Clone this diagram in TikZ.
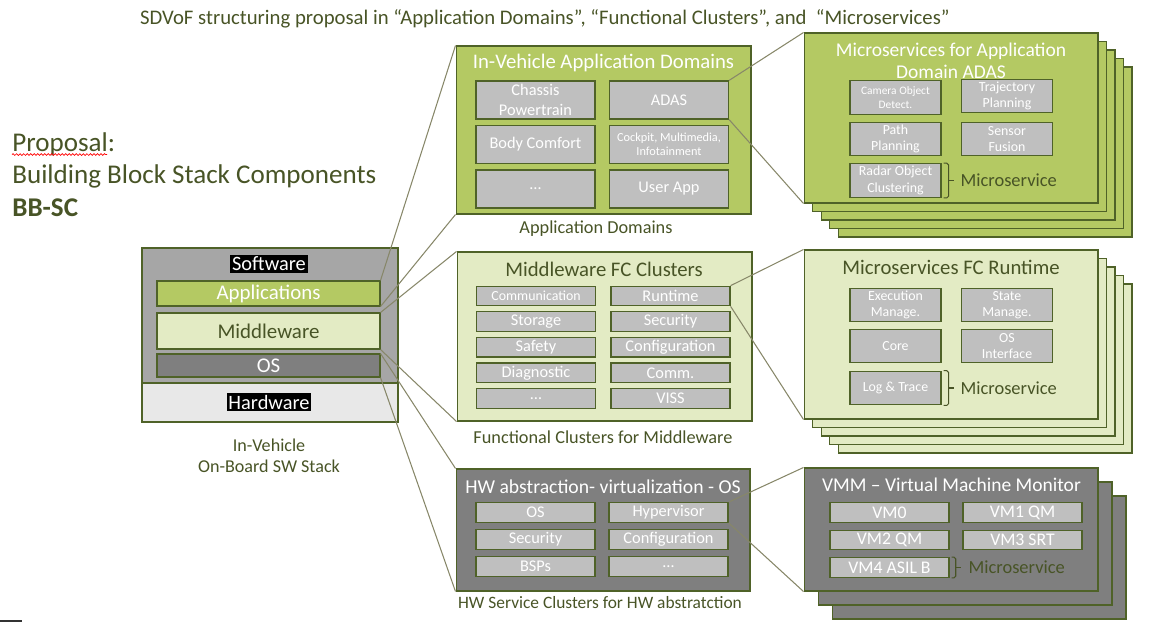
\documentclass[tikz,border=0pt]{standalone}
\usepackage{fontspec}
\setmainfont{Carlito}
\usetikzlibrary{decorations.pathmorphing}

\definecolor{grn}{RGB}{180,201,99}
\definecolor{pale}{RGB}{227,235,196}
\definecolor{dgray}{RGB}{127,127,127}
\definecolor{sgray}{RGB}{166,166,166}
\definecolor{cgray}{RGB}{191,191,191}
\definecolor{hwgray}{RGB}{232,232,232}
\definecolor{olv}{RGB}{79,98,40}
\definecolor{txt}{RGB}{72,84,38}
\definecolor{lnk}{RGB}{135,135,105}

\tikzset{
  box/.style={draw=olv, line width=0.6pt, inner sep=0pt},
  grnbox/.style={box, fill=grn},
  palebox/.style={box, fill=pale},
  darkbox/.style={box, fill=dgray},
  cell/.style={draw=olv, line width=0.7pt, fill=cgray, text=white, inner sep=0pt,
    align=center, font=\fontsize{9.3}{11.2}\selectfont},
  appcell/.style={cell, minimum width=2.38cm, minimum height=0.76cm},
  rowcell/.style={cell, minimum width=2.38cm, minimum height=0.39cm},
  mscell/.style={cell, minimum width=1.82cm, minimum height=0.67cm,
    font=\fontsize{7.9}{9.3}\selectfont},
  vmcell/.style={cell, minimum width=2.38cm, minimum height=0.39cm,
    font=\fontsize{10.1}{11.5}\selectfont},
  layer/.style={draw=olv, line width=0.6pt, minimum width=4.46cm, inner sep=0pt,
    font=\fontsize{11.9}{13.5}\selectfont},
  tag/.style={fill=black, text=white, inner sep=1pt, font=\fontsize{11.6}{13}\selectfont},
  caption/.style={text=txt, align=center, font=\fontsize{10.4}{12}\selectfont},
  link/.style={draw=lnk, line width=0.6pt},
  bracket/.style={draw=txt, line width=0.6pt, rounded corners=1pt},
  mslabel/.style={right, xshift=3.5pt, inner sep=0pt, text=txt,
    font=\fontsize{10.5}{12}\selectfont}
}

\begin{document}
\begin{tikzpicture}[x=0.02cm, y=-0.02cm]
\useasboundingbox (0,0) rectangle (1157,626);

\node[text=txt, font=\fontsize{11.8}{13}\selectfont] (ttl) at (545,19)
  {SDVoF structuring proposal in “Application Domains”, “Functional Clusters”, and~ “Microservices”};

\node[anchor=base west, inner sep=0pt, text=txt, font=\fontsize{15.4}{18}\selectfont] (prop) at (12,151) {Proposal:};
\node[anchor=base west, inner sep=0pt, text=txt, font=\fontsize{15.4}{18}\selectfont] (bbsc) at (12,183) {Building Block Stack Components};
\node[anchor=base west, inner sep=0pt, text=txt, font=\fontsize{15.4}{18}\selectfont\bfseries] (bbscs) at (12,216) {BB-SC};
\draw[red, line width=0.4pt, decorate, decoration={snake, amplitude=0.5pt, segment length=2pt}]
  ([yshift=-2pt]prop.base west) -- ++(95,0);
\draw[black!80, line width=0.8pt] (0,621) -- (22,621);

% on-board stack
\node[box, fill=sgray, minimum width=5.12cm, minimum height=2.7cm] (swbox) at (270,315.5) {};
\node[box, fill=hwgray, minimum width=5.12cm, minimum height=0.78cm] (hwpart) at (270,402.5) {};
\node[tag] (swlbl) at (269,264) {Software};
\node[tag] (hwlbl) at (269,402) {Hardware};
\node[layer, fill=grn, text=white, minimum height=0.5cm] (apps) at (268.5,293.5) {Applications};
\node[layer, fill=pale, text=txt, minimum height=0.72cm] (mware) at (268.5,331) {Middleware};
\node[layer, fill=dgray, text=white, minimum height=0.46cm] (os) at (268.5,365.5) {OS};
\node[caption, font=\fontsize{10.3}{12}\selectfont] (stkcap) at (269,456) {In-Vehicle\\On-Board SW Stack};

% application domains
\node[grnbox, minimum width=5.9cm, minimum height=3.36cm] (appdom) at (603.5,130) {};
\node[text=white, font=\fontsize{11.8}{13}\selectfont] (appttl) at (603.5,63) {In-Vehicle Application Domains};
\node[appcell] (chas) at (535.5,100) {Chassis\\Powertrain};
\node[appcell] (adas) at (669,100) {ADAS};
\node[appcell] (body) at (535.5,144.5) {Body Comfort};
\node[appcell, font=\fontsize{7}{8.2}\selectfont] (cock) at (669,144.5) {Cockpit, Multimedia,\\Infotainment};
\node[appcell] (appdot) at (535.5,189) {…};
\node[appcell] (user) at (669,189) {User App};
\node[caption] (appcap) at (596,229) {Application Domains};

% middleware clusters
\node[palebox, minimum width=5.9cm, minimum height=3.38cm] (mwbox) at (604.5,336.5) {};
\node[text=txt, font=\fontsize{11.8}{13}\selectfont] (mwttl) at (604,269) {Middleware FC Clusters};
\foreach \nm/\txt [count=\i from 0] in {mcom/{\fontsize{7.9}{9}\selectfont Communication}, msto/Storage,
    msaf/Safety, mdia/Diagnostic, mdot/…}
  \node[rowcell] (\nm) at (536,296+25.6*\i) {\txt};
\foreach \nm/\txt [count=\i from 0] in {mrun/Runtime, msec/Security, mcfg/Configuration,
    mcmm/Comm., mvis/VISS}
  \node[rowcell] (\nm) at (670.5,296+25.6*\i) {\txt};
\node[caption] (mwcap) at (603,437) {Functional Clusters for Middleware};

% hw abstraction
\node[darkbox, minimum width=5.88cm, minimum height=2.44cm] (hwbox) at (603,530) {};
\node[text=white, font=\fontsize{11.2}{13}\selectfont] (hwttl) at (603,487) {HW abstraction- virtualization - OS};
\foreach \nm/\txt [count=\i from 0] in {hos/OS, hsec/Security, hbsp/BSPs}
  \node[rowcell] (\nm) at (535.5,512.5+27*\i) {\txt};
\foreach \nm/\txt [count=\i from 0] in {hyp/Hypervisor, hcfg/Configuration, hdot/…}
  \node[rowcell] (\nm) at (668.5,512.5+27*\i) {\txt};
\node[caption, font=\fontsize{9.9}{12}\selectfont] (hwcap) at (600,603) {HW Service Clusters for HW abstratction};

% microservices adas
\foreach \d [count=\k] in {34,25.5,17,8.5}
  \node[grnbox, minimum width=5.88cm, minimum height=3.4cm] (adasbk\k) at (951+\d,118+\d) {};
\node[grnbox, minimum width=5.88cm, minimum height=3.4cm] (adasms) at (951,118) {};
\node[anchor=base, text=white, align=center, font=\fontsize{11.1}{12.5}\selectfont] (adasttl) at (951,78)
  {Microservices for Application\\Domain ADAS};
\node[mscell, font=\fontsize{6.5}{8.1}\selectfont] (cam) at (895.5,97.5) {Camera Object\\Detect.};
\node[mscell] (traj) at (1007,96) {Trajectory\\Planning};
\node[mscell] (path) at (895.5,139) {Path\\Planning};
\node[mscell] (fus) at (1007,139) {Sensor\\Fusion};
\node[mscell] (radar) at (895.5,180.5) {Radar Object\\Clustering};
\draw[bracket] ([xshift=1.2pt]radar.north east) -| ([xshift=4pt]radar.east) |- ([xshift=1.2pt]radar.south east);
\draw[bracket] ([xshift=4pt]radar.east) -- ++(3pt,0) node[mslabel] (radms) {Microservice};

% microservices runtime
\foreach \d [count=\k] in {34,25.5,17,8.5}
  \node[palebox, minimum width=5.88cm, minimum height=3.38cm] (rtbk\k) at (951+\d,334.5+\d) {};
\node[palebox, minimum width=5.88cm, minimum height=3.38cm] (rtms) at (951,334.5) {};
\node[text=txt, font=\fontsize{11.8}{13}\selectfont] (rtttl) at (951,267) {Microservices FC Runtime};
\node[mscell] (exec) at (895.5,305) {Execution\\Manage.};
\node[mscell] (state) at (1007,305) {State\\Manage.};
\node[mscell] (core) at (895.5,346) {Core};
\node[mscell] (osif) at (1007,346) {OS\\Interface};
\node[mscell] (log) at (895.5,388) {Log \& Trace};
\draw[bracket] ([xshift=1.2pt]log.north east) -| ([xshift=4pt]log.east) |- ([xshift=1.2pt]log.south east);
\draw[bracket] ([xshift=4pt]log.east) -- ++(3pt,0) node[mslabel] (logms) {Microservice};

% vmm
\foreach \d [count=\k] in {28,14}
  \node[darkbox, minimum width=5.88cm, minimum height=2.46cm] (vmbk\k) at (951+\d,529.5+\d) {};
\node[darkbox, minimum width=5.88cm, minimum height=2.46cm] (vmm) at (951,529.5) {};
\node[text=white, font=\fontsize{11.1}{13}\selectfont] (vmttl) at (951.5,485) {VMM – Virtual Machine Monitor};
\node[vmcell] (vm0) at (889.5,512.5) {VM0};
\node[vmcell] (vm1) at (1022.5,512.5) {VM1 QM};
\node[vmcell] (vm2) at (889.5,540) {VM2 QM};
\node[vmcell] (vm3) at (1022.5,540) {VM3 SRT};
\node[vmcell] (vm4) at (889.5,567.5) {VM4 ASIL B};
\draw[bracket] ([xshift=1.2pt]vm4.north east) -| ([xshift=3.5pt]vm4.east) |- ([xshift=1.2pt]vm4.south east);
\draw[bracket] ([xshift=3.5pt]vm4.east) -- ++(3pt,0) node[mslabel, xshift=0.5pt] (vmms) {Microservice};

% connectors
\draw[link] (apps.north east) -- (appdom.north west);
\draw[link] (apps.south east) -- (appdom.south west);
\draw[link] (mware.north east) -- (mwbox.north west);
\draw[link] (mware.south east) -- (mwbox.south west);
\draw[link] (os.north east) -- (hwbox.north west);
\draw[link] (os.south east) -- (hwbox.south west);
\draw[link] (adas.north east) -- (adasms.north west);
\draw[link] (adas.south east) -- (adasms.south west);
\draw[link] (mrun.north east) -- (rtms.north west);
\draw[link] (mrun.south east) -- (rtms.south west);
\draw[link] (hyp.north east) -- (vmm.north west);
\draw[link] (hyp.south east) -- (vmm.south west);
\end{tikzpicture}
\end{document}
